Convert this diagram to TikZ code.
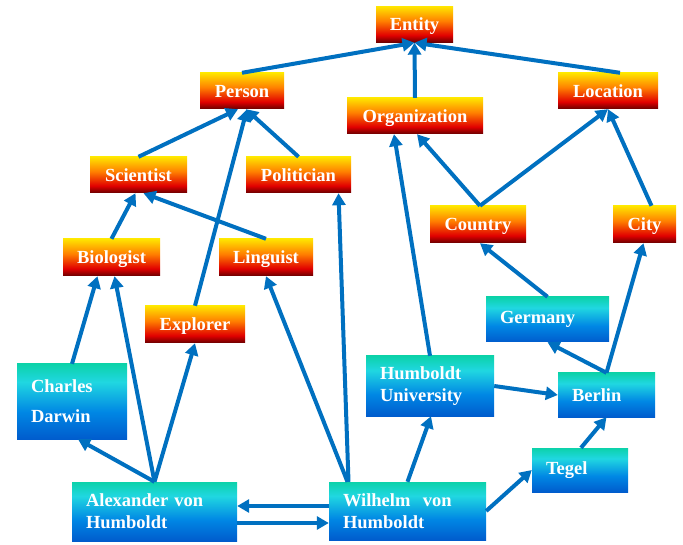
\documentclass[tikz,border=0pt]{standalone}
\usepackage{fontspec}
\setmainfont{Liberation Serif}
\usetikzlibrary{arrows.meta}

\definecolor{linkblue}{RGB}{0,112,192}
\definecolor{warmtop}{RGB}{255,228,0}
\definecolor{warmorange}{RGB}{255,128,0}
\definecolor{warmred}{RGB}{225,0,0}
\definecolor{warmbottom}{RGB}{105,0,0}
\definecolor{cooltop}{RGB}{12,210,170}
\definecolor{coolcyan}{RGB}{32,215,225}
\definecolor{coolmid}{RGB}{0,135,228}
\definecolor{coolbottom}{RGB}{0,92,205}

\pgfdeclareverticalshading{warm}{100bp}{color(0bp)=(warmbottom); color(25bp)=(warmbottom);
  color(35bp)=(warmred); color(55bp)=(warmorange); color(75bp)=(warmtop); color(100bp)=(warmtop)}
\pgfdeclareverticalshading{cool}{100bp}{color(0bp)=(coolbottom); color(25bp)=(coolbottom);
  color(43bp)=(coolmid); color(63bp)=(coolcyan); color(75bp)=(cooltop); color(100bp)=(cooltop)}

\begin{document}
\begin{tikzpicture}[x=1pt,y=-1pt,
  every node/.style={font=\bfseries\fontsize{18.5}{22}\selectfont,text=white},
  concept/.style={shade,shading=warm,minimum height=36pt,inner sep=0pt,text depth=-1pt},
  thing/.style={shade,shading=cool,inner xsep=14pt,inner ysep=0pt,align=left},
  link/.style={draw=linkblue,line width=4pt,-{Triangle[length=12pt,width=13pt]}},]

  \useasboundingbox (0,0) rectangle (683,545);

  % upper ontology
  \node[concept,minimum width=77pt] (entity) at (414.5,24.5) {Entity};
  \node[concept,minimum width=84pt] (person) at (242,91) {Person};
  \node[concept,minimum width=136pt] (org) at (415,116) {Organization};
  \node[concept,minimum width=100pt] (location) at (608,91) {Location};
  \node[concept,minimum width=97pt] (scientist) at (138.5,175) {Scientist};
  \node[concept,minimum width=105pt] (politician) at (298.5,175) {Politician};
  \node[concept,minimum width=96pt,minimum height=37pt] (country) at (478,224.5) {Country};
  \node[concept,minimum width=63pt,minimum height=37pt] (city) at (644.5,224.5) {City};
  \node[concept,minimum width=97pt,minimum height=37pt] (biologist) at (111.5,257.5) {Biologist};
  \node[concept,minimum width=94pt,minimum height=37pt] (linguist) at (266,257.5) {Linguist};
  \node[concept,minimum width=100pt,minimum height=37pt] (explorer) at (195,324.5) {Explorer};

  % instances
  \node[thing,text width=95pt,minimum height=45pt] (germany) at (547.5,319.5) {Germany};
  \node[thing,text width=82pt,minimum height=75pt] (darwin) at (72,401.5) {Charles\\[8pt]Darwin};
  \node[thing,text width=100pt,minimum height=60pt] (humboldtu) at (430,386) {Humboldt\\University};
  \node[thing,text width=69pt,minimum height=44pt] (berlin) at (606.5,395) {Berlin};
  \node[thing,text width=68pt,minimum height=44pt] (tegel) at (580,470) {Tegel};
  \node[thing,text width=137pt,minimum height=59pt] (alexander) at (154.5,511.5) {Alexander von\\Humboldt};
  \node[thing,text width=129pt,minimum height=58pt] (wilhelm) at (407.5,511) {Wilhelm\ \ von\\Humboldt};

  % subclass links
  \draw[link] (person.north) -- (entity.south);
  \draw[link] (org.north) -- (entity.south);
  \draw[link] ([xshift=12pt]location.north) -- (entity.south);
  \draw[link] (scientist.north) -- ([xshift=-4pt]person.south);
  \draw[link] (politician.north) -- ([xshift=4pt]person.south);
  \draw[link] (explorer.north) -- ([xshift=5pt]person.south);
  \draw[link] (biologist.north) -- ([xshift=-3pt]scientist.south);
  \draw[link] (linguist.north) -- ([xshift=5pt]scientist.south);
  \draw[link] ([xshift=2pt]country.north) -- ([xshift=2pt]org.south);
  \draw[link] ([xshift=2pt]country.north) -- (location.south);
  \draw[link] ([xshift=7pt]city.north) -- (location.south);

  % type links
  \draw[link] (darwin.north) -- ([xshift=-14pt]biologist.south);
  \draw[link] (alexander.north) -- ([xshift=3pt]biologist.south);
  \draw[link] (alexander.north) -- ([xshift=6pt]darwin.south);
  \draw[link] (alexander.north) -- (explorer.south);
  \draw[link] ([xshift=-60pt]wilhelm.north) -- (linguist.south);
  \draw[link] ([xshift=-59pt]wilhelm.north) -- ([xshift=40pt]politician.south);
  \draw[link] (humboldtu.north) -- ([xshift=-21pt]org.south);
  \draw[link] (germany.north) -- ([xshift=2pt]country.south);
  \draw[link] (berlin.north) -- ([xshift=-1pt]city.south);

  % relations between instances
  \draw[link] ([yshift=5pt]wilhelm.west) -- ([yshift=5.5pt]alexander.east);
  \draw[link] ([yshift=-11.5pt]alexander.east) -- ([yshift=-12pt]wilhelm.west);
  \draw[link] (wilhelm.north) -- ([xshift=1pt]humboldtu.south);
  \draw[link] (wilhelm.east) -- (tegel.west);
  \draw[link] (humboldtu.east) -- (berlin.west);
  \draw[link] ([xshift=1pt]tegel.north) -- (berlin.south);
  \draw[link] (berlin.north) -- (germany.south);

\end{tikzpicture}
\end{document}
